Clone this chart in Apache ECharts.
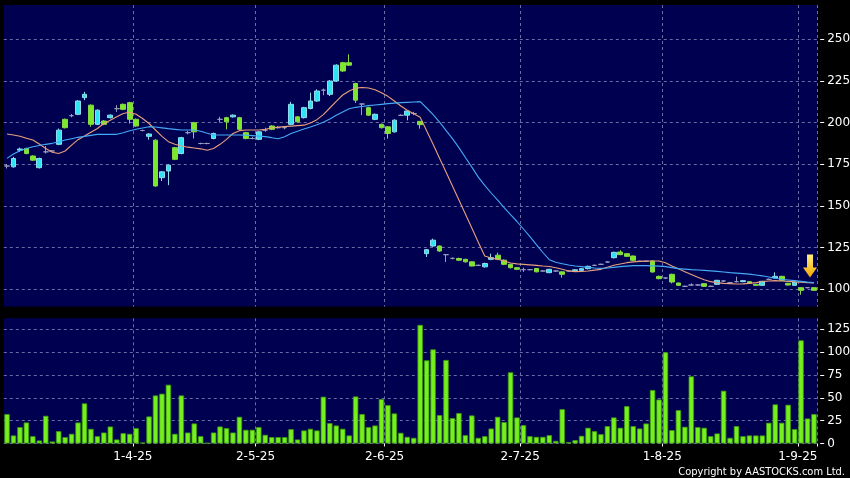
<!DOCTYPE html>
<html><head><meta charset="utf-8">
<script src="https://cdn.jsdelivr.net/npm/echarts@6/dist/echarts.min.js"></script>
<style>html,body{margin:0;padding:0;background:#000;} #c{width:850px;height:478px;}</style>
</head><body><div id="c"></div>
<script>
const dates = [
'4-3-25','5-3-25','6-3-25','7-3-25','10-3-25','11-3-25','12-3-25','13-3-25','14-3-25','17-3-25','18-3-25','19-3-25','20-3-25','21-3-25','24-3-25','25-3-25','26-3-25','27-3-25','28-3-25','31-3-25',
'1-4-25','2-4-25','3-4-25','7-4-25','8-4-25','9-4-25','10-4-25','11-4-25','14-4-25','15-4-25','16-4-25','17-4-25','22-4-25','23-4-25','24-4-25','25-4-25','28-4-25','29-4-25','30-4-25',
'2-5-25','6-5-25','7-5-25','8-5-25','9-5-25','12-5-25','13-5-25','14-5-25','15-5-25','16-5-25','19-5-25','20-5-25','21-5-25','22-5-25','23-5-25','26-5-25','27-5-25','28-5-25','29-5-25','30-5-25',
'2-6-25','3-6-25','4-6-25','5-6-25','6-6-25','9-6-25','10-6-25','11-6-25','12-6-25','13-6-25','16-6-25','17-6-25','18-6-25','19-6-25','20-6-25','23-6-25','24-6-25','25-6-25','26-6-25','27-6-25','30-6-25',
'2-7-25','3-7-25','4-7-25','7-7-25','8-7-25','9-7-25','10-7-25','11-7-25','14-7-25','15-7-25','16-7-25','17-7-25','18-7-25','21-7-25','22-7-25','23-7-25','24-7-25','25-7-25','28-7-25','29-7-25','30-7-25','31-7-25',
'1-8-25','4-8-25','5-8-25','6-8-25','7-8-25','8-8-25','11-8-25','12-8-25','13-8-25','14-8-25','15-8-25','18-8-25','19-8-25','20-8-25','21-8-25','22-8-25','25-8-25','26-8-25','27-8-25','28-8-25','29-8-25',
'1-9-25','2-9-25','3-9-25'
];
const tickLabels = ['1-4-25','2-5-25','2-6-25','2-7-25','1-8-25','1-9-25'];
const priceTicks = [100,125,150,175,200,225,250];
const volTicks = [0,25,50,75,100,125];

const openP = [
174,173.5,183.5,184.5,180,173,182.5,183,187,202,204.2,205,215,210.5,199,201,203,208.4,211,212,
202,195.3,191.8,189.5,167,171,185,181.5,194,200,187.5,187.5,190.5,202,203,203.5,203,194,190.5,
190,195.5,198,197,197,199,203.5,203,208.5,213,219.5,217,225,236,236,223.5,211.2,209,202,199,
197.5,194.5,204.4,204.5,205.5,200.8,121.4,126,126,120.8,118.6,118.5,118,116.5,114.4,113.5,118,120.5,117.5,115,113,
111.8,111.8,112.5,111,110,111,110.5,111,111.2,111.4,112.4,114.4,115,116.4,119,122.4,121.4,120,116.8,116.8,117,107.8,
106.8,109,103.8,101.8,102.6,102.6,103.4,101.8,103,105,104,104.6,104.6,104.6,103,102.4,106,106.8,107.8,103.6,102.4,
101,101,101
];
const closeP = [
174,178.5,184.2,181.5,177.5,178.5,182.5,183,195.5,197,204.2,213,217,199,207.5,199,204.5,208.4,208,202,
198,195.3,193.2,162,170.5,174.5,178,191,194,194.5,187.5,187.5,193.5,202,200.5,204.5,196,190.5,190.5,
194.5,195.5,196,197,197,211,200.5,209,213,219,219.5,225,234.5,231,234.5,213.5,211.2,204.5,205,197,
193.5,201.5,204.4,207,205.5,198.8,123.8,129.5,123,120.8,118.6,117.5,116.5,114,114.4,115.5,119,118,115,113,112,
111.8,111.8,110.5,111,112,111,109,111,111.7,112.4,113.8,114.4,115,116.4,122.2,120.8,119.8,117.4,116.8,116.8,110.4,106.4,
106.8,104.4,102.4,101.8,102.6,102.6,101.8,101.8,105.4,105,104,104.6,105.2,103.6,102.4,104.8,106,107.8,105.4,102.6,104.4,
99.4,101,99.4
];
const lowP = [
172.5,173,182.5,181,177,172.5,181.5,182.5,186.5,196.5,203.2,204.5,213.5,197.5,198.5,198.5,202.5,206.5,207.5,199.5,
197.5,194.8,189.8,161.5,165,162.5,177.5,181,193,190.5,187,187,190,200,196,203,195.5,190,190,
189.5,194.5,195.5,196.5,196,198.5,200,202.5,208,212.5,216.5,216,224.5,230.5,234,211.8,204.5,204,201.5,196.5,
190.4,194,204,201.4,204.5,196.4,119.4,125.5,122.5,116.4,118,117,116,113.8,114,113,117.5,117.5,114.5,112.5,111.5,
110.5,111.4,110.2,110.6,109.7,110.6,107,110.6,110.9,111,112,114,114.6,116,118.5,120.5,119.5,117,116.4,116.4,110,106,
106.4,103.5,102,101.4,102.2,102.2,101.5,101.4,102.7,104.6,103.6,104.2,104.3,103.3,102.1,102.1,105.6,106.5,105.1,102.3,102.1,
96.8,100.6,99.1
];
const highP = [
175.2,179.5,185,185,180.5,179,186,183.5,196.5,202.5,205.2,213.5,218.5,211,208,201.5,205,210.5,211.5,212.5,
202.5,195.8,193.6,190,171,175,185.5,191.5,195,200.5,188,188,194,203.5,203.5,205,203.5,194.5,191.5,
195,197,198.5,198,198,212.5,204,209.5,218,220,220.5,225.5,235,236.5,241,224,211.5,209.5,205.5,199.5,
198,202,205,207.5,206.5,201,124.2,130.4,126.3,121.2,119,119,118.3,116.8,114.8,116,121.4,122,118,115.3,113.3,
113,112.2,112.8,111.4,112.3,111.4,110.8,111.4,112,112.7,114.2,114.8,115.4,116.8,122.6,123.5,121.7,120.3,117.2,117.2,117.4,108.2,
107.2,109.4,104.1,102.2,103.6,103,103.7,102.2,105.7,105.4,104.4,107.6,105.5,104.9,103.3,105.1,106.4,110.2,108.1,103.9,104.7,
101.3,101.4,101.3
];
const ma10 = [
193.2,192.6,191.8,190.7,189.6,187.2,184.5,182.2,181.5,183.0,186.5,189.8,192.0,194.3,196.5,199.5,201.5,203.5,205.5,206.2,
205.0,202.5,199.5,195.6,191.8,188.6,187.0,186.0,185.3,184.8,184.3,183.5,184.5,187.0,190.0,193.5,195.2,195.6,195.6,
195.6,196.0,196.8,197.3,197.6,197.9,198.2,198.5,199.8,201.8,204.8,208.8,212.8,216.6,219.0,220.7,221.1,220.8,219.8,218.0,
215.8,213.0,210.0,207.5,205.3,203.3,195.2,187.0,178.7,170.4,162.0,153.6,145.2,136.8,128.3,120.0,118.8,118.0,117.0,115.8,115.3,
115.0,114.7,114.4,114.0,113.7,113.0,112.0,111.0,110.6,110.7,111.0,111.5,112.0,113.2,114.4,115.2,116.0,116.5,116.8,117.0,117.0,117.0,
116.0,114.0,112.3,110.6,108.9,107.2,105.8,104.6,104.0,103.6,103.4,103.2,103.3,103.6,104.0,104.6,105.0,105.2,105.0,104.8,104.5,
104.3,104.0,103.8
];
const ma20 = [
178.6,181.2,183.2,184.5,185.6,186.3,187.0,187.6,188.4,189.6,190.4,191.2,191.8,192.4,193.0,193.0,193.0,193.0,194.0,195.2,
196.0,196.8,197.6,197.4,196.9,196.4,196.0,195.6,195.6,195.6,194.8,193.6,192.6,192.6,192.6,192.6,192.6,192.5,192.2,
191.9,191.6,191.0,190.3,191.5,193.5,194.9,196.2,197.4,198.8,200.3,202.2,204.4,206.4,208.4,209.2,209.7,210.2,210.6,211.0,
211.4,211.7,212.0,212.2,212.4,212.6,208.8,204.8,200.3,195.4,190.4,185.0,179.1,173.3,167.3,162.4,157.8,153.5,149.0,144.8,140.7,
136.2,131.6,126.8,122.1,117.8,116.2,115.4,114.6,114.0,113.6,113.2,112.8,112.6,112.8,113.2,113.6,113.9,114.2,114.2,114.2,114.1,113.9,
113.6,113.0,112.4,112.1,111.8,111.6,111.4,111.1,110.8,110.4,110.0,109.7,109.4,109.1,108.6,108.1,107.4,106.7,106.0,105.6,105.2,
104.8,104.3,104.0
];
const volume = [
32.2,8.8,17.9,23,8,3.3,30.3,2.2,13.5,7,10.6,23,43.9,16,8,12,18.6,4.4,11.3,10.6,
16.8,1.1,29.6,52.6,54.5,64.3,10.6,52.6,12,21.9,8,0.7,12,18.6,16.8,12,29.2,15,15,
17.9,9.5,7,7,7,15.7,4.4,14.3,16.1,14.3,51.2,22.3,19.7,16.1,8.8,51.5,32.2,17.9,19.7,48.6,
42,32.9,11.7,7.3,6.2,129.8,91,103,31.1,91.4,27.8,33.3,9.1,30.7,6.2,8,16.4,29.2,23.4,77.9,28.5,
20.1,8,7.3,7.3,9.1,2.9,37.6,1.5,3.7,8.4,17.2,13.5,10.2,19,28.5,17.2,40.9,19,16.4,21.9,58.5,48.2,
99.8,14.6,36.5,18.3,73.5,17.9,17.2,8,11,57.7,6.2,19,8,8.8,8.8,8.8,22.7,42.8,22.7,42.4,15.7,
112.9,27.4,32.2
];

const candles = dates.map((d, i) => [openP[i], closeP[i], lowP[i], highP[i]]);
const showDate = (i, v) => tickLabels.indexOf(v) >= 0;

const gridLine = { show: true, interval: showDate, lineStyle: { color: '#6c6ca4', type: [3, 3], width: 1 } };
const hGridLine = { show: true, lineStyle: { color: '#6c6ca4', type: [3, 3], width: 1 } };
const font = 'DejaVu Sans';

const chart = echarts.init(document.getElementById('c'), null, { renderer: 'canvas' });
chart.setOption({
  backgroundColor: '#000000',
  animation: false,
  grid: [
    { left: 3.8, top: 5, width: 813.4, height: 301.5, show: true, backgroundColor: '#000050', borderWidth: 0, containLabel: false, outerBoundsMode: 'none' },
    { left: 3.8, top: 318.3, width: 813.4, height: 125.2, show: true, backgroundColor: '#000050', borderWidth: 0, containLabel: false, outerBoundsMode: 'none' }
  ],
  xAxis: [
    { type: 'category', gridIndex: 0, data: dates, boundaryGap: true,
      axisLine: { show: false }, axisTick: { show: false }, axisLabel: { show: false }, splitLine: gridLine },
    { type: 'category', gridIndex: 1, data: dates, boundaryGap: true, offset: 3,
      axisLine: { show: false },
      axisTick: { show: true, interval: showDate, length: 3, lineStyle: { color: '#ffffff', width: 1 } },
      axisLabel: { show: true, interval: showDate, color: '#ffffff', fontFamily: font, fontSize: 12, margin: 4, padding: [0, 6.5, 0, 0] },
      splitLine: gridLine }
  ],
  yAxis: [
    { type: 'value', gridIndex: 0, position: 'right', min: 89.7, max: 270.6, offset: 3,
      axisLine: { show: false },
      axisTick: { show: true, length: 4, customValues: priceTicks, lineStyle: { color: '#ffffff' } },
      axisLabel: { customValues: priceTicks, color: '#ffffff', fontFamily: font, fontSize: 12, margin: 7 },
      splitLine: hGridLine },
    { type: 'value', gridIndex: 1, position: 'right', min: 0, max: 137, offset: 3,
      axisLine: { show: false },
      axisTick: { show: true, length: 4, customValues: volTicks, lineStyle: { color: '#ffffff' } },
      axisLabel: { customValues: volTicks, color: '#ffffff', fontFamily: font, fontSize: 12, margin: 7 },
      splitLine: hGridLine }
  ],
  series: [
    { type: 'candlestick', xAxisIndex: 0, yAxisIndex: 0, data: candles, barWidth: 5.2,
      itemStyle: { color: '#2fe3f2', color0: '#7ce82a', borderColor: '#8fdcea', borderColor0: '#86d844', borderColorDoji: '#9a9cc0', borderWidth: 1 },
      markPoint: {
        silent: true,
        label: { show: false },
        data: [{
          coord: [dates[124], 114],
          symbol: 'path://M4,0 L10,0 L10,13 L14,13 L7,23 L0,13 L4,13 Z',
          symbolSize: [14, 23], symbolOffset: [2.5, 0],
          itemStyle: { color: new echarts.graphic.LinearGradient(0, 0, 0, 1, [{ offset: 0, color: '#fff27a' }, { offset: 1, color: '#f5a300' }]) }
        }]
      }
    },
    { type: 'line', xAxisIndex: 0, yAxisIndex: 0, data: ma10, symbol: 'none', silent: true,
      lineStyle: { color: '#e8a07c', width: 1.1 } },
    { type: 'line', xAxisIndex: 0, yAxisIndex: 0, data: ma20, symbol: 'none', silent: true,
      lineStyle: { color: '#44aaf6', width: 1.1 } },
    { type: 'bar', xAxisIndex: 1, yAxisIndex: 1, data: volume, barWidth: 5.4,
      itemStyle: { color: '#76f01c', borderColor: '#3e9a12', borderWidth: 0.8 } }
  ],
  graphic: [
    { type: 'text', x: 845, y: 472, silent: true,
      style: { text: 'Copyright by AASTOCKS.com Ltd.', fill: '#ffffff', align: 'right', verticalAlign: 'middle', textAlign: 'right', textVerticalAlign: 'middle', font: '11px "DejaVu Sans Condensed", "Liberation Sans Narrow", "Liberation Sans", sans-serif' } }
  ]
});
</script>
</body></html>
